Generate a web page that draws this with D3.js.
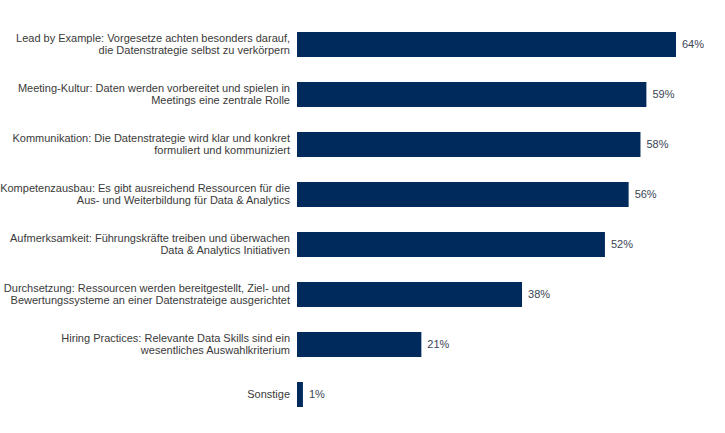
<!DOCTYPE html>
<html><head><meta charset="utf-8">
<script src="https://cdn.jsdelivr.net/npm/d3@7"></script>
<style>body{margin:0;background:#fff}svg{display:block}text{font-family:"Liberation Sans",Arial,sans-serif}</style>
</head><body>
<script>
const categories = [
  ["Lead by Example: Vorgesetze achten besonders darauf,", "die Datenstrategie selbst zu verkörpern"],
  ["Meeting-Kultur: Daten werden vorbereitet und spielen in", "Meetings eine zentrale Rolle"],
  ["Kommunikation: Die Datenstrategie wird klar und konkret", "formuliert und kommuniziert"],
  ["Kompetenzausbau: Es gibt ausreichend Ressourcen für die", "Aus- und Weiterbildung für Data & Analytics"],
  ["Aufmerksamkeit: Führungskräfte treiben und überwachen", "Data & Analytics Initiativen"],
  ["Durchsetzung: Ressourcen werden bereitgestellt, Ziel- und", "Bewertungssysteme an einer Datenstrateige ausgerichtet"],
  ["Hiring Practices: Relevante Data Skills sind ein", "wesentliches Auswahlkriterium"],
  ["Sonstige"]
];
const values = [64, 59, 58, 56, 52, 38, 21, 1];

const W = 725, H = 433;
const svg = d3.select("body").append("svg").attr("width", W).attr("height", H);
const x = d3.scaleLinear().domain([0, 64]).range([297, 676]);
const y = d3.scaleBand().domain(d3.range(values.length)).range([19.5, 419.5]).paddingInner(0.5).paddingOuter(0.25);

const g = svg.append("g");
g.selectAll("rect").data(values).join("rect")
  .attr("x", x(0)).attr("y", (d, i) => y(i))
  .attr("width", d => x(d) - x(0)).attr("height", y.bandwidth())
  .attr("fill", "#002a5c");

g.selectAll("text.val").data(values).join("text").attr("class", "val")
  .attr("x", d => x(d) + 6).attr("y", (d, i) => y(i) + y.bandwidth() / 2)
  .attr("dy", "0.35em").attr("font-size", 11).attr("fill", "#3a4455")
  .text(d => d + "%");

const lab = g.selectAll("text.lab").data(categories).join("text").attr("class", "lab")
  .attr("text-anchor", "end").attr("font-size", 11).attr("fill", "#3a3a3a")
  .attr("y", (d, i) => y(i) + y.bandwidth() / 2);
lab.each(function(d) {
  const t = d3.select(this);
  const n = d.length, lh = 12;
  d.forEach((line, k) => {
    t.append("tspan").attr("x", 290)
      .attr("dy", k === 0 ? ((-(n - 1) / 2) * lh / 11 + 0.35) + "em" : (lh / 11) + "em")
      .text(line);
  });
});
</script>
</body></html>
